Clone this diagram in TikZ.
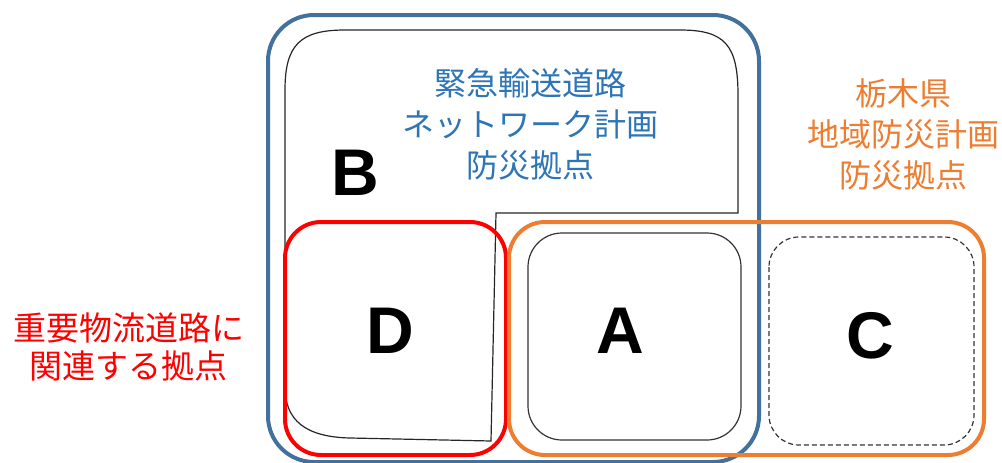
\documentclass[tikz,border=0pt]{standalone}
\usepackage{fontspec}
\setmainfont{Liberation Sans}
\newfontfamily\jp{Noto Sans CJK JP}
\definecolor{bluebd}{RGB}{65,113,156}
\definecolor{bluetx}{RGB}{46,117,182}
\definecolor{orng}{RGB}{237,125,49}
\definecolor{redc}{RGB}{255,0,0}
\tikzset{
  bigletter/.style={font=\fontsize{66}{66}\selectfont\bfseries, inner sep=0pt},
  jptext/.style={font=\jp\fontsize{32}{41}\selectfont, align=center, inner sep=0pt},
  frame/.style={line width=4pt, rounded corners=36pt},
  innerbox/.style={line width=1.2pt, draw=black!80, rounded corners=34pt}
}
\begin{document}
\begin{tikzpicture}[x=1pt,y=-1pt]
\useasboundingbox (0,0) rectangle (1002,463);
% blue outer frame
\draw[line width=4pt, draw=bluebd, rounded corners=46pt] (268,15) rectangle (759,462);
% B outline
\draw[line width=1.2pt, draw=black!85] (285,387) -- (285,90)
  .. controls (285,45) and (300,30) .. (345,30) -- (680,30)
  .. controls (725,30) and (738,45) .. (738,95) -- (738,213) -- (496,213) -- (491,441)
  -- (350,438) .. controls (305,437) and (285,420) .. (285,387) -- cycle;
% red frame D
\draw[frame, draw=redc] (285,222) rectangle (506,455);
% orange frame
\draw[frame, draw=orng] (509,222) rectangle (984,455);
% A box
\draw[innerbox] (528,233) rectangle (741,440);
% C dashed box
\draw[innerbox, dashed, dash pattern=on 5pt off 3pt, rounded corners=30pt] (769,237) rectangle (974,445);
% letters
\node[bigletter] (B) at (355,173) {B};
\node[bigletter] (D) at (390,331) {D};
\node[bigletter] (A) at (620,331) {A};
\node[bigletter] (C) at (870,336) {C};
% texts
\node[jptext, text=bluetx] (bt) at (530,124) {緊急輸送道路\\ネットワーク計画\\防災拠点};
\node[jptext, text=orng] (ot) at (903,134) {栃木県\\地域防災計画\\防災拠点};
\node[jptext, text=redc, font=\jp\fontsize{33}{38}\selectfont] (rt) at (129,347) {重要物流道路に\\関連する拠点};
\end{tikzpicture}
\end{document}
